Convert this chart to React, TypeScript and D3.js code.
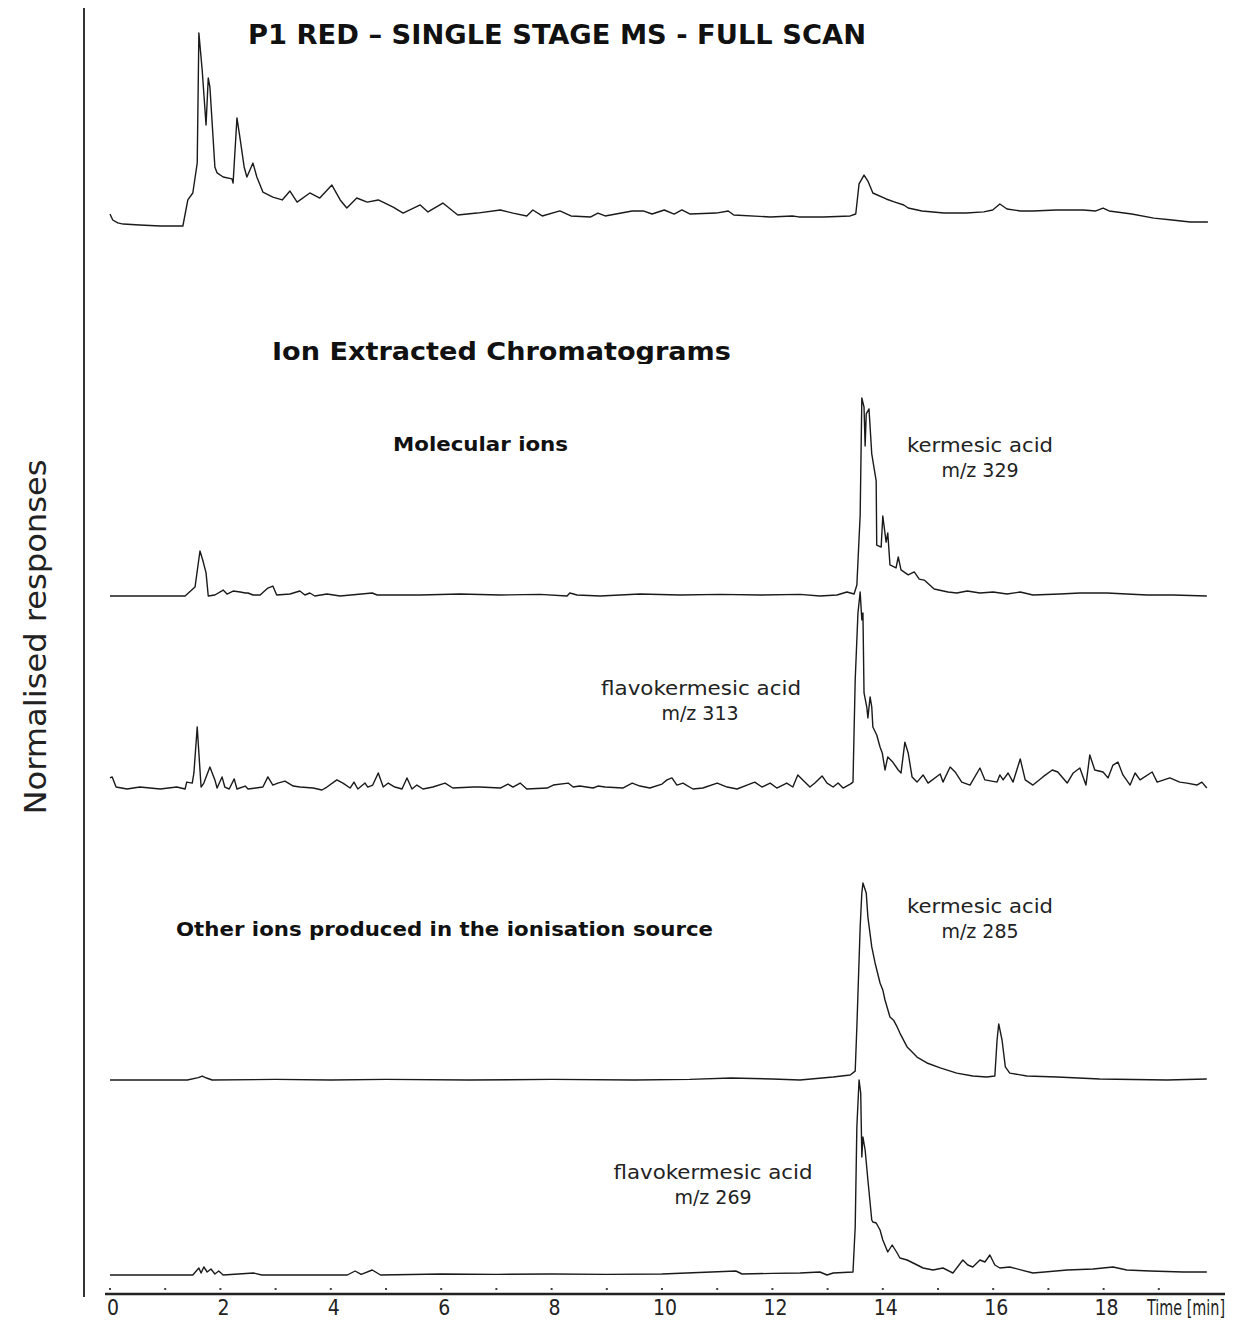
import React from 'react';
import * as d3 from 'd3';

// [time (min), normalised intensity (main peak = 100)]
const fullScan: [number, number][] = [
  [0, 6.2], [0.05, 3.1], [0.14, 1.6], [0.24, 1.0], [0.54, 0.5], [0.91, 0], [1.32, 0], [1.41, 13.5],
  [1.5, 17.1], [1.58, 32.6], [1.61, 100], [1.67, 80.8], [1.74, 52.3], [1.78, 76.7], [1.81, 72.0],
  [1.9, 30.6], [1.94, 27.5], [2.05, 25.4], [2.21, 24.4], [2.23, 22.3], [2.3, 56.0], [2.36, 44.6],
  [2.43, 30.6], [2.48, 25.4], [2.59, 32.6], [2.66, 25.4], [2.77, 17.6], [2.95, 15.0], [3.12, 13.5],
  [3.26, 18.1], [3.39, 12.4], [3.62, 17.1], [3.8, 14.5], [4.02, 21.2], [4.17, 13.5], [4.29, 9.3],
  [4.47, 14.5], [4.66, 12.4], [4.86, 13.5], [5.13, 9.8], [5.31, 6.7], [5.62, 10.9], [5.76, 7.3],
  [6.03, 11.9], [6.3, 5.7], [6.65, 6.7], [7.07, 8.3], [7.3, 6.7], [7.55, 5.2], [7.66, 8.3], [7.83, 5.2],
  [8.15, 7.8], [8.35, 5.2], [8.71, 4.7], [8.84, 6.7], [8.97, 5.2], [9.46, 7.8], [9.66, 7.8], [9.82, 6.2],
  [10.04, 8.3], [10.22, 6.2], [10.36, 8.3], [10.51, 6.2], [10.98, 6.7], [11.2, 7.8], [11.3, 5.7],
  [11.96, 4.7], [12.36, 5.2], [12.48, 4.7], [12.93, 4.7], [13.41, 5.2], [13.51, 6.2], [13.57, 21.8],
  [13.66, 26.4], [13.73, 23.3], [13.82, 17.1], [14.06, 14.0], [14.22, 12.4], [14.38, 10.9], [14.46, 9.3],
  [14.71, 7.8], [15.11, 6.7], [15.51, 6.7], [15.83, 7.3], [15.99, 8.3], [16.12, 11.4], [16.25, 8.8],
  [16.49, 7.8], [16.72, 7.8], [17.14, 8.3], [17.63, 8.3], [17.86, 7.8], [17.99, 9.3], [18.1, 7.8],
  [18.51, 6.2], [18.91, 4.1], [19.24, 3.1], [19.57, 2.1], [19.89, 2.1],
];

const kermesic329: [number, number][] = [
  [0, 0], [1.36, 0], [1.54, 4.5], [1.63, 22.6], [1.68, 18.1], [1.74, 11.6], [1.78, 0], [1.9, 0.5],
  [2.05, 3.0], [2.12, 1.0], [2.23, 2.5], [2.36, 2.0], [2.45, 1.5], [2.5, 1.5], [2.59, 0.5], [2.72, 0.5],
  [2.86, 4.0], [2.95, 5.0], [3.02, 0.5], [3.26, 1.0], [3.44, 2.5], [3.53, 0.5], [3.62, 1.5], [3.71, 0],
  [3.93, 1.0], [4.17, 0], [4.75, 1.5], [4.84, 0.5], [5.62, 0.5], [6.34, 1.0], [7.07, 0.5], [7.79, 0.8],
  [8.28, 0], [8.33, 1.5], [8.46, 0.5], [8.88, 0], [9.6, 1.0], [10.33, 0.5], [11.05, 0.8], [11.78, 0.5],
  [12.5, 0.8], [12.86, 0], [13.17, 0.5], [13.35, 2.0], [13.48, 1.0], [13.53, 5.5], [13.59, 40.7],
  [13.62, 99.5], [13.66, 94.9], [13.68, 75.4], [13.7, 91.5], [13.75, 94.0], [13.8, 71.4], [13.88, 57.8],
  [13.89, 25.6], [13.97, 24.6], [14.0, 40.2], [14.06, 27.1], [14.09, 31.7], [14.13, 15.6], [14.24, 14.1],
  [14.28, 19.6], [14.33, 13.1], [14.46, 10.6], [14.57, 12.1], [14.66, 8.5], [14.75, 8.0], [14.93, 3.5],
  [15.18, 2.0], [15.34, 1.5], [15.53, 2.5], [15.76, 1.5], [16.0, 2.0], [16.25, 1.0], [16.49, 2.0],
  [16.72, 0.5], [17.21, 1.0], [17.57, 1.5], [18.06, 1.5], [18.42, 1.0], [18.79, 0.5], [19.26, 0.5],
  [19.87, 0],
];

const flavokermesic313: [number, number][] = [
  [0, 6.1], [0.04, 6.6], [0.11, 1.5], [0.31, 0.5], [0.54, 1.5], [0.91, 0.5], [1.21, 1.5], [1.36, 0.5],
  [1.39, 4.0], [1.49, 3.5], [1.52, 8.6], [1.58, 31.8], [1.61, 18.7], [1.65, 1.5], [1.7, 3.5], [1.81, 11.6],
  [1.9, 5.1], [1.94, 1.0], [2.03, 6.6], [2.08, 1.5], [2.16, 0.5], [2.25, 5.6], [2.3, 0.5], [2.45, 2.0],
  [2.5, 0.5], [2.77, 1.5], [2.86, 6.6], [2.95, 2.5], [3.04, 3.5], [3.17, 4.5], [3.32, 2.0], [3.44, 1.5],
  [3.68, 1.0], [3.84, 0], [3.93, 1.5], [4.11, 5.1], [4.22, 3.5], [4.35, 1.0], [4.42, 4.0], [4.49, 0.5],
  [4.62, 3.5], [4.67, 1.5], [4.76, 2.5], [4.86, 8.6], [4.95, 1.5], [5.04, 3.5], [5.16, 1.5], [5.29, 0.5],
  [5.38, 6.1], [5.47, 0.5], [5.56, 2.5], [5.67, 0.5], [5.85, 1.5], [6.07, 3.5], [6.21, 1.0], [6.58, 1.5],
  [6.7, 1.5], [7.07, 1.0], [7.21, 3.0], [7.3, 1.5], [7.43, 3.5], [7.55, 0.5], [7.92, 1.0], [8.03, 2.5],
  [8.3, 3.5], [8.39, 1.5], [8.51, 2.0], [8.75, 1.0], [8.84, 2.0], [8.97, 1.5], [9.29, 1.0], [9.46, 3.5],
  [9.6, 2.0], [9.78, 1.0], [10.0, 3.0], [10.09, 5.1], [10.18, 6.1], [10.27, 2.5], [10.38, 3.5], [10.56, 0.5],
  [10.74, 1.0], [11.0, 3.5], [11.18, 1.5], [11.36, 0.5], [11.54, 2.5], [11.68, 4.0], [11.81, 1.5],
  [11.96, 3.5], [12.08, 1.0], [12.26, 3.5], [12.37, 1.5], [12.46, 7.6], [12.55, 5.1], [12.68, 1.5],
  [12.77, 3.5], [12.9, 7.1], [12.99, 3.5], [13.1, 1.5], [13.19, 3.5], [13.28, 1.0], [13.41, 3.0],
  [13.46, 4.0], [13.5, 55.6], [13.55, 89.4], [13.59, 100], [13.62, 85.9], [13.64, 89.4], [13.66, 49.0],
  [13.71, 41.9], [13.73, 36.4], [13.77, 47.0], [13.8, 41.9], [13.82, 31.8], [13.89, 27.8], [13.95, 21.7],
  [13.99, 18.7], [14.04, 10.1], [14.09, 16.7], [14.18, 14.1], [14.28, 10.1], [14.33, 8.6], [14.4, 24.2],
  [14.46, 18.7], [14.53, 6.6], [14.62, 4.0], [14.73, 7.6], [14.82, 3.5], [15.04, 8.1], [15.09, 4.0],
  [15.22, 11.6], [15.31, 9.1], [15.43, 4.0], [15.58, 2.5], [15.76, 11.1], [15.85, 5.1], [16.07, 4.0],
  [16.12, 7.6], [16.18, 5.1], [16.27, 8.6], [16.36, 4.0], [16.49, 15.7], [16.58, 5.1], [16.72, 2.5],
  [16.9, 6.6], [17.07, 10.1], [17.17, 9.1], [17.34, 3.5], [17.45, 8.6], [17.57, 11.1], [17.68, 2.5],
  [17.75, 17.7], [17.84, 10.1], [17.99, 9.1], [18.08, 6.1], [18.17, 12.6], [18.26, 14.1], [18.35, 7.6],
  [18.48, 2.5], [18.57, 8.6], [18.66, 5.1], [18.88, 9.1], [18.97, 4.0], [19.2, 6.1], [19.38, 4.0],
  [19.51, 3.5], [19.69, 2.5], [19.78, 4.0], [19.87, 1.0],
];

const kermesic285: [number, number][] = [
  [0, 0], [1.4, 0], [1.6, 1.2], [1.67, 2.0], [1.75, 1.0], [1.85, 0], [3.0, 0.3], [4.0, 0], [5.0, 0.3],
  [6.5, 0], [8.0, 0.3], [9.5, 0], [10.5, 0.3], [11.25, 1.0], [12.0, 0.5], [12.5, 0], [13.1, 1.5],
  [13.41, 2.5], [13.5, 4.5], [13.53, 26.8], [13.59, 77.3], [13.62, 94.4], [13.64, 99.5], [13.7, 94.4],
  [13.73, 82.3], [13.8, 67.2], [13.86, 59.1], [13.95, 49.0], [14.0, 45.5], [14.04, 40.4], [14.13, 31.8],
  [14.2, 30.0], [14.26, 26.8], [14.31, 23.7], [14.44, 16.7], [14.5, 15.0], [14.62, 11.6], [14.8, 8.6],
  [15.04, 6.1], [15.34, 3.5], [15.63, 2.0], [15.88, 1.5], [16.03, 2.0], [16.07, 20.2], [16.1, 28.3],
  [16.16, 20.2], [16.22, 6.6], [16.3, 3.5], [16.61, 2.0], [17.16, 1.5], [17.93, 0.5], [19.15, 0],
  [19.87, 0.5],
];

const flavokermesic269: [number, number][] = [
  [0, 0], [1.5, 0], [1.61, 3.5], [1.65, 1.0], [1.7, 4.0], [1.76, 1.5], [1.83, 3.0], [1.9, 0.5],
  [1.97, 2.0], [2.05, 0], [2.6, 1.0], [2.75, 0], [4.3, 0], [4.44, 2.0], [4.55, 0.3], [4.75, 2.5],
  [4.9, 0], [6.0, 0.5], [7.0, 0.3], [8.0, 0.5], [9.0, 0.3], [10.0, 0.5], [11.34, 2.0], [11.45, 0.5],
  [12.0, 0.8], [12.5, 1.0], [12.86, 1.5], [12.99, 0], [13.1, 1.0], [13.46, 1.5], [13.5, 24.0],
  [13.53, 74.0], [13.57, 97.5], [13.6, 91.0], [13.62, 59.0], [13.64, 69.0], [13.68, 62.5], [13.73, 47.5],
  [13.8, 27.5], [13.82, 26.5], [13.88, 26.0], [13.95, 22.5], [14.0, 17.5], [14.09, 11.5], [14.17, 15.0],
  [14.26, 11.0], [14.31, 8.5], [14.44, 7.5], [14.55, 6.0], [14.73, 3.5], [14.91, 2.5], [15.09, 3.5],
  [15.27, 1.0], [15.45, 7.5], [15.54, 5.0], [15.63, 4.0], [15.76, 7.5], [15.85, 6.5], [15.94, 10.0],
  [16.03, 5.0], [16.12, 3.5], [16.3, 4.0], [16.72, 1.0], [17.34, 2.5], [17.81, 3.0], [18.17, 4.0],
  [18.42, 2.5], [18.84, 2.0], [19.44, 1.5], [19.87, 1.5],
];

const timeTicks = [0, 2, 4, 6, 8, 10, 12, 14, 16, 18];
const minorTicks = d3.range(0, 20);

// layout for each stacked trace: baseline y and pixel height of 100 units
const traces = [
  { data: fullScan, base: 226, h: 193 },
  { data: kermesic329, base: 596, h: 199 },
  { data: flavokermesic313, base: 790, h: 198 },
  { data: kermesic285, base: 1080, h: 198 },
  { data: flavokermesic269, base: 1275, h: 200 },
];

const W = 1257;
const H = 1320;
const sans = "'DejaVu Sans', Verdana, sans-serif";
const narrow = "'Liberation Sans Narrow', 'DejaVu Sans Condensed', 'Liberation Sans', Arial, sans-serif";

export default function App() {
  const x = d3.scaleLinear().domain([0, 20]).range([110, 1214]);

  const paths = traces.map(tr => {
    const y = d3.scaleLinear().domain([0, 100]).range([tr.base, tr.base - tr.h]);
    const line = d3.line<[number, number]>().x(d => x(d[0])).y(d => y(d[1]));
    return line(tr.data) || '';
  });

  return (
    <svg width={W} height={H} style={{ position: 'absolute', left: 0, top: 0, background: '#fff' }}>
      <defs>
        <clipPath id="ionClip">
          <rect x={0} y={0} width={W} height={364} />
        </clipPath>
      </defs>

      {/* y axis line */}
      <line x1={84} x2={84} y1={8} y2={1297} stroke="#333" strokeWidth={2} />
      <text
        transform="translate(46,637) rotate(-90)"
        textAnchor="middle"
        fontFamily={narrow}
        fontSize={30}
        fill="#222"
        textLength={355}
        lengthAdjust="spacingAndGlyphs"
      >
        Normalised responses
      </text>

      {/* x axis */}
      <line x1={105} x2={1225} y1={1294} y2={1294} stroke="#222" strokeWidth={2.5} />
      {minorTicks.map(t => (
        <rect key={t} x={x(t) - 1} y={1288} width={2} height={2} fill="#444" />
      ))}
      {timeTicks.map(t => (
        <text key={t} x={x(t) + 3} y={1315} textAnchor="middle" fontFamily={narrow} fontSize={21} fill="#222">
          {t}
        </text>
      ))}
      <text x={1147} y={1315} fontFamily={narrow} fontSize={21} fill="#222" textLength={78} lengthAdjust="spacingAndGlyphs">
        Time [min]
      </text>

      {/* traces */}
      {paths.map((p, i) => (
        <path key={i} d={p} fill="none" stroke="#1a1a1a" strokeWidth={1.4} strokeLinejoin="round" />
      ))}

      {/* headings */}
      <text x={248} y={44} fontFamily={narrow} fontWeight="bold" fontSize={27} fill="#111" textLength={618} lengthAdjust="spacingAndGlyphs">
        P1 RED – SINGLE STAGE MS - FULL SCAN
      </text>
      <g clipPath="url(#ionClip)">
        <text x={272} y={360} fontFamily={sans} fontWeight="bold" fontSize={25} fill="#111" textLength={459} lengthAdjust="spacingAndGlyphs">
          Ion Extracted Chromatograms
        </text>
      </g>
      <text x={393} y={451} fontFamily={sans} fontWeight="bold" fontSize={19} fill="#111" textLength={175} lengthAdjust="spacingAndGlyphs">
        Molecular ions
      </text>
      <text x={176} y={936} fontFamily={sans} fontWeight="bold" fontSize={19} fill="#111" textLength={537} lengthAdjust="spacingAndGlyphs">
        Other ions produced in the ionisation source
      </text>

      {/* compound labels */}
      <g fontFamily={sans} fontSize={19} fill="#222" textAnchor="middle">
        <text x={980} y={452} textLength={146} lengthAdjust="spacingAndGlyphs">kermesic acid</text>
        <text x={980} y={477}>m/z 329</text>
        <text x={701} y={695} textLength={200} lengthAdjust="spacingAndGlyphs">flavokermesic acid</text>
        <text x={700} y={720}>m/z 313</text>
        <text x={980} y={913} textLength={146} lengthAdjust="spacingAndGlyphs">kermesic acid</text>
        <text x={980} y={938}>m/z 285</text>
        <text x={713} y={1179} textLength={199} lengthAdjust="spacingAndGlyphs">flavokermesic acid</text>
        <text x={713} y={1204}>m/z 269</text>
      </g>
    </svg>
  );
}
